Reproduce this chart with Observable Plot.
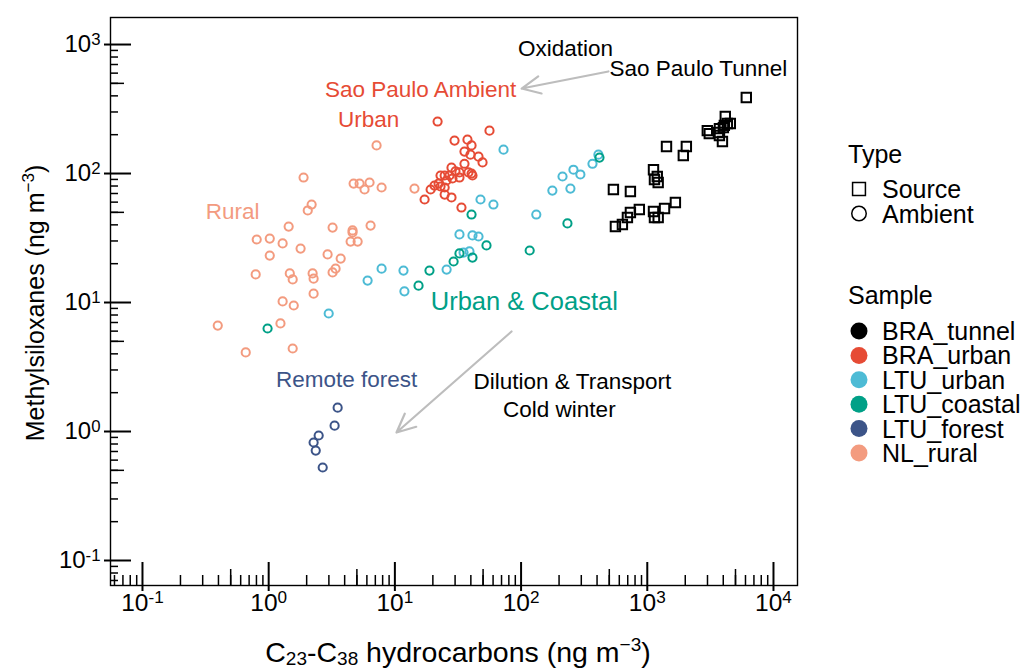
<!DOCTYPE html>
<html><head><meta charset="utf-8">
<script src="https://cdn.jsdelivr.net/npm/d3@7"></script>
<script src="https://cdn.jsdelivr.net/npm/@observablehq/plot@0.6"></script>
<style>
html,body{margin:0;padding:0;background:#fff;}
body{width:1029px;height:669px;overflow:hidden;font-family:"Liberation Sans",Arial,Helvetica,sans-serif;}
</style></head><body>
<div id="chart"></div>
<script>
// ---- categories ----
const samples = ["BRA_tunnel","BRA_urban","LTU_urban","LTU_coastal","LTU_forest","NL_rural"];
const sampleColors = ["#000000","#E64B35","#4DBBD5","#00A087","#3C5488","#F39B7F"];
const types = ["Source","Ambient"];
const typeSymbols = ["square","circle"];

// ---- series (x: C23-C38 hydrocarbons, y: methylsiloxanes, ng m-3) ----
const braTunnelX = [6090,4150,4550,4310,4010,3730,2990,3100,3660,3730,3940,4080,1420,2040,1930,1120,1200,1140,1220,539,735,1670,1370,1120,1140,1220,865,735,696,635,559];
const braTunnelY = [388,277,244,244,227,223,215,204,208,197,177,236,162,162,138,107,94.8,89.8,85.2,75.2,72.5,59.6,53.5,50.8,45.6,45.6,52.6,49.9,45.6,40.2,38.8];
const braUrbanX = [21.8,56.2,29.7,37.6,40.5,35.6,39.7,46.0,49.5,35.6,28.1,30.2,32.5,38.3,40.5,41.2,27.1,24.8,23.0,28.6,32.5,25.7,22.2,20.6,19.2,23.0,24.8,24.8,28.1,17.2,33.7];
const braUrbanY = [253,215,180,183,165,148,140,135,122,119,111,104,102,102,100,96.5,96.5,96.5,96.5,91.5,93.1,88.3,83.6,80.7,75.2,79.3,77.9,68.7,65.2,62.9,54.5];
const ltuUrbanX = [72.6,410,368,260,295,213,177,246,47.7,60.4,132,32.5,41.2,46.0,35.0,39.0,25.7,11.7,7.85,11.9,6.08,2.99];
const ltuUrbanY = [153,140,119,107,98.3,94.8,73.8,76.5,62.9,57.5,48.1,33.7,33.1,32.5,24.4,24.9,18.0,17.7,18.3,12.2,14.8,8.22];
const ltuCoastalX = [418,40.5,233,53.2,117,32.5,41.2,29.2,18.8,15.4,0.98];
const ltuCoastalY = [133,48.1,41.0,27.7,25.3,24.0,22.3,20.8,17.7,13.5,6.29];
const ltuForestX = [3.52,3.33,2.49,2.27,2.36,2.68];
const ltuForestY = [1.53,1.11,0.931,0.822,0.712,0.526];
const nlRuralX = [7.16,1.89,4.71,5.25,6.30,5.75,7.85,14.3,2.19,2.04,1.44,3.21,4.62,4.62,6.42,4.46,5.07,0.804,1.02,1.29,1.79,1.02,2.93,3.72,0.789,1.47,1.55,2.23,2.27,3.21,3.39,2.27,1.29,1.58,1.24,0.395,0.658,1.55];
const nlRuralY = [165,93.1,83.6,83.6,85.2,75.2,77.9,76.5,57.5,51.7,38.8,38.1,36.2,34.9,39.5,29.7,29.7,30.8,31.3,28.7,26.2,23.1,23.6,21.9,16.5,16.8,15.1,16.8,15.3,17.1,18.3,11.7,10.2,9.48,6.88,6.63,4.10,4.40];

// ---- axis ticks ----
const xMajor = [0.1,1,10,100,1000,10000];
const xTickLabels = ["10^-1","10^0","10^1","10^2","10^3","10^4"];
const yMajor = [0.1,1,10,100,1000];
const yTickLabels = ["10^-1","10^0","10^1","10^2","10^3"];
const xDomain = [0.0558, 15500];
const yDomain = [0.064, 1620];

// ---- annotations ----
const annoText = ["Oxidation","Sao Paulo Tunnel","Sao Paulo Ambient","Urban","Rural","Urban & Coastal","Remote forest","Dilution & Transport","Cold winter"];
const annoX = [225,2540,16.0,6.19,0.519,106,4.15,255,201];
const annoY = [931,652,448,262,50.8,10.2,2.53,2.44,1.48];
const annoSample = ["BRA_tunnel","BRA_tunnel","BRA_urban","BRA_urban","NL_rural","LTU_coastal","LTU_forest","BRA_tunnel","BRA_tunnel"];
const arrowX1 = [492, 84], arrowY1 = [618, 5.96], arrowX2 = [101, 10.3], arrowY2 = [456, 0.982];

// ---- build tables ----
const series = [
  ["BRA_tunnel","Source",braTunnelX,braTunnelY],
  ["NL_rural","Ambient",nlRuralX,nlRuralY],
  ["LTU_urban","Ambient",ltuUrbanX,ltuUrbanY],
  ["LTU_coastal","Ambient",ltuCoastalX,ltuCoastalY],
  ["BRA_urban","Ambient",braUrbanX,braUrbanY],
  ["LTU_forest","Ambient",ltuForestX,ltuForestY]
];
const points = [];
for (const [s, t, xs, ys] of series) xs.forEach((x, i) => points.push({sample: s, type: t, x, y: ys[i]}));
const sourcePts = points.filter(d => d.type === "Source");
const ambientPts = points.filter(d => d.type === "Ambient");
const annos = annoText.map((t, i) => ({text: t, x: annoX[i], y: annoY[i], sample: annoSample[i]}));
const arrows = arrowX1.map((x, i) => ({x1: x, y1: arrowY1[i], x2: arrowX2[i], y2: arrowY2[i]}));

function minorTicks(domain) {
  const out = [];
  for (let k = -3; k <= 5; k++) for (let m = 2; m <= 9; m++) {
    const v = m * Math.pow(10, k);
    if (v > domain[0] && v < domain[1]) out.push({v, mid: m === 5});
  }
  return out;
}
const xMinor = minorTicks(xDomain), yMinor = minorTicks(yDomain);

const W = 1029, H = 669, mL = 110, mR = 232, mT = 17, mB = 84;
const pW = W - mL - mR, pH = H - mT - mB;
const xLab = new Map(xMajor.map((v, i) => [v, xTickLabels[i]]));
const yLab = new Map(yMajor.map((v, i) => [v, yTickLabels[i]]));
const fam = "'Liberation Sans', Arial, Helvetica, sans-serif";

const chart = Plot.plot({
  width: W, height: H,
  marginLeft: mL, marginRight: mR, marginTop: mT, marginBottom: mB,
  style: {fontFamily: fam, fontSize: "25px", color: "#000", background: "#fff"},
  x: {type: "log", domain: xDomain},
  y: {type: "log", domain: yDomain},
  symbol: {domain: types, range: typeSymbols},
  color: {domain: samples, range: sampleColors},
  marks: [
    Plot.frame({stroke: "#000", strokeWidth: 1.4}),
    Plot.axisX(xMajor, {tickSize: 0, tickPadding: 8, tickFormat: d => xLab.get(d), fontSize: 24.5, label: null}),
    Plot.axisY(yMajor, {tickSize: 0, tickPadding: 10, tickFormat: d => yLab.get(d), fontSize: 24, label: null}),
    Plot.tickX(xMajor, {x: d => d, insetTop: pH - 23, insetBottom: -6, stroke: "#000", strokeWidth: 2}),
    Plot.tickX(xMinor, {x: "v", stroke: "#000", strokeWidth: 1.5, insetTop: pH - 10}),
    Plot.tickX(xMinor.filter(d => d.mid), {x: "v", stroke: "#000", strokeWidth: 1.5, insetTop: pH - 16}),
    Plot.tickY(yMajor, {y: d => d, insetRight: pW - 21, insetLeft: -6, stroke: "#000", strokeWidth: 2}),
    Plot.tickY(yMinor, {y: "v", stroke: "#000", strokeWidth: 1.5, insetRight: pW - 8}),
    Plot.tickY(yMinor.filter(d => d.mid), {y: "v", stroke: "#000", strokeWidth: 1.5, insetRight: pW - 14}),
    Plot.arrow(arrows, {x1: "x1", y1: "y1", x2: "x2", y2: "y2", stroke: "#bdbdbd", strokeWidth: 2.2, headLength: 14, headAngle: 50}),
    Plot.dot(ambientPts, {x: "x", y: "y", symbol: "type", stroke: "sample", fill: "none", r: 4.1, strokeWidth: 2}),
    Plot.dot(sourcePts, {x: "x", y: "y", symbol: "type", stroke: "sample", fill: "none", r: 5.3, strokeWidth: 2}),
    Plot.text(annos.filter(d => d.text !== "Urban & Coastal"), {x: "x", y: "y", text: "text", fill: "sample", fontSize: 22.5, textAnchor: "middle"}),
    Plot.text(annos.filter(d => d.text === "Urban & Coastal"), {x: "x", y: "y", text: "text", fill: "sample", fontSize: 25.5, textAnchor: "middle"})
  ]
});
document.getElementById("chart").appendChild(chart);

const svg = d3.select(chart);
// superscript tick labels
svg.selectAll("text").each(function () {
  const m = /^10\^(.+)$/.exec(this.textContent);
  if (m && this.childNodes.length === 1) {
    this.textContent = "10";
    d3.select(this).append("tspan").attr("dy", "-0.45em").attr("font-size", "0.7em").text(m[1]);
  }
});

// axis titles
const xt = svg.append("text").attr("x", 458).attr("y", 662).attr("text-anchor", "middle")
  .attr("font-family", fam).attr("font-size", 28.5).attr("fill", "#000");
xt.append("tspan").text("C");
xt.append("tspan").attr("font-size", 19).attr("dy", 3).text("23");
xt.append("tspan").attr("dy", -3).text("-C");
xt.append("tspan").attr("font-size", 19).attr("dy", 3).text("38");
xt.append("tspan").attr("dy", -3).text(" hydrocarbons (ng m");
xt.append("tspan").attr("font-size", 19).attr("dy", -11).text("\u22123");
xt.append("tspan").attr("dy", 11).text(")");

const yt = svg.append("text").attr("transform", `translate(44,${mT + pH / 2 + 2}) rotate(-90)`).attr("text-anchor", "middle")
  .attr("font-family", fam).attr("font-size", 25).attr("fill", "#000");
yt.append("tspan").text("Methylsiloxanes (ng m");
yt.append("tspan").attr("font-size", 17).attr("dy", -10).text("\u22123");
yt.append("tspan").attr("dy", 10).text(")");

// legend
const lg = svg.append("g").attr("font-family", fam).attr("font-size", 25).attr("fill", "#000").attr("text-anchor", "start");
const lx = 848;
lg.append("text").attr("x", lx).attr("y", 163).text("Type");
types.forEach((t, i) => {
  const cy = 189 + i * 24.5;
  const sym = d3.symbol(typeSymbols[i] === "square" ? d3.symbolSquare : d3.symbolCircle, 165);
  lg.append("path").attr("d", sym()).attr("transform", `translate(859,${cy})`).attr("fill", "none").attr("stroke", "#000").attr("stroke-width", 1.5);
  lg.append("text").attr("x", 882).attr("y", cy).attr("dy", "0.36em").text(t);
});
lg.append("text").attr("x", lx).attr("y", 304).text("Sample");
samples.forEach((s, i) => {
  const cy = 331 + i * 24.4;
  lg.append("circle").attr("cx", 859).attr("cy", cy).attr("r", 8.5).attr("fill", sampleColors[i]);
  lg.append("text").attr("x", 882).attr("y", cy).attr("dy", "0.36em").text(s);
});
</script>
</body></html>
